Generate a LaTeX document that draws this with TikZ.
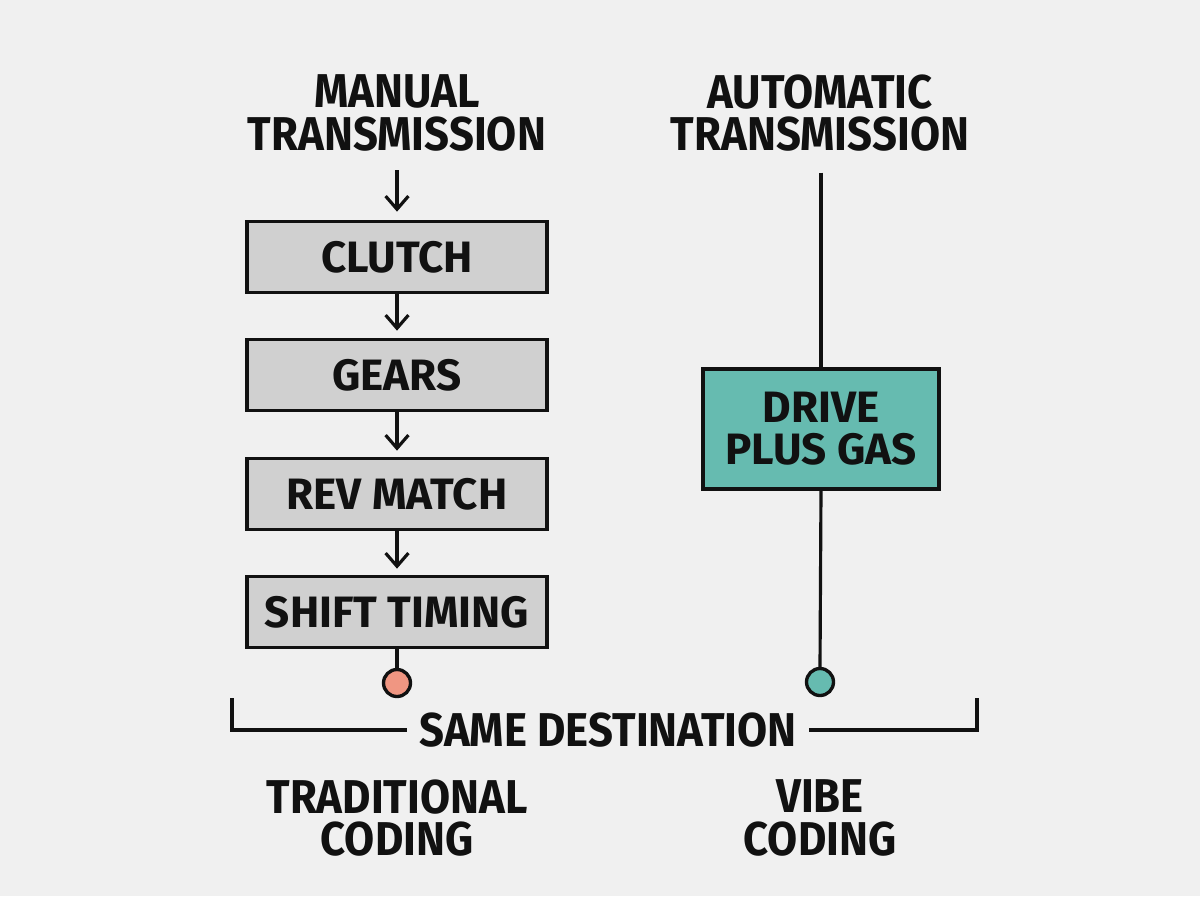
\documentclass[tikz,border=0pt]{standalone}
\usepackage{fontspec}
\newfontfamily\hand[FakeStretch=0.92]{Fira Sans}
\newfontfamily\handbox{Fira Sans}
\usetikzlibrary{arrows.meta}
\definecolor{bg}{RGB}{240,240,240}
\definecolor{boxgray}{RGB}{208,208,208}
\definecolor{teal}{RGB}{102,187,176}
\definecolor{salmon}{RGB}{240,150,130}
\definecolor{ink}{RGB}{17,17,17}
\tikzset{
  title/.style={font={\hand\bfseries\fontsize{27}{24.4}\selectfont}, align=center, text=ink, inner sep=2pt},
  stepbox/.style={draw=ink, line width=2.1pt, fill=boxgray, minimum width=6.0cm, minimum height=1.42cm, font={\handbox\bfseries\fontsize{25}{24}\selectfont}, text=ink},
  drivebox/.style={draw=ink, line width=2.1pt, fill=teal, minimum width=4.72cm, minimum height=2.4cm, align=center, font={\handbox\bfseries\fontsize{25}{24}\selectfont}, text=ink},
  conn/.style={draw=ink, line width=1.8pt},
  arr/.style={conn, -{Straight Barb[length=7.5pt, width=13pt, line width=1.8pt]}},
  dot/.style={circle, draw=ink, line width=1.9pt, minimum size=0.54cm, inner sep=0pt},
}
\begin{document}
\begin{tikzpicture}[x=0.02cm, y=-0.02cm]
\fill[bg] (0,0) rectangle (1200,896);
\useasboundingbox (0,0) rectangle (1200,896);

\node[title] (mt) at (397,113) {MANUAL\\TRANSMISSION};
\node[title] (at) at (820,113) {AUTOMATIC\\TRANSMISSION};

\node[stepbox] (clutch) at (397,257) {CLUTCH};
\node[stepbox] (gears) at (397,375) {GEARS};
\node[stepbox] (rev) at (397,494) {REV MATCH};
\node[stepbox] (shift) at (397,612) {SHIFT TIMING};

\node[drivebox] (drive) at (821,429) {DRIVE\\PLUS GAS};

\node[dot, fill=salmon] (d1) at (397,683) {};
\node[dot, fill=teal] (d2) at (820,682) {};

\draw[arr, shorten <=0.3cm, shorten >=0.16cm] (mt.south) -- (clutch.north);
\draw[arr, shorten >=0.14cm] (clutch.south) -- (gears.north);
\draw[arr, shorten >=0.12cm] (gears.south) -- (rev.north);
\draw[arr, shorten >=0.12cm] (rev.south) -- (shift.north);
\draw[conn] (shift.south) -- (d1.north);

\draw[conn, shorten <=0.34cm] (at.south -| drive.north) -- (drive.north);
\draw[conn] (drive.south) -- (d2.north);

\node[title, inner sep=7pt] (same) at (608,730) {SAME DESTINATION};
\coordinate (bl) at (232,698);
\coordinate (br) at (977,698);
\draw[conn] (bl) |- (same.west);
\draw[conn] (br) |- (same.east);

\node[title] (trad) at (397,818) {TRADITIONAL\\CODING};
\node[title] (vibe) at (820,818) {VIBE\\CODING};
\end{tikzpicture}
\end{document}
